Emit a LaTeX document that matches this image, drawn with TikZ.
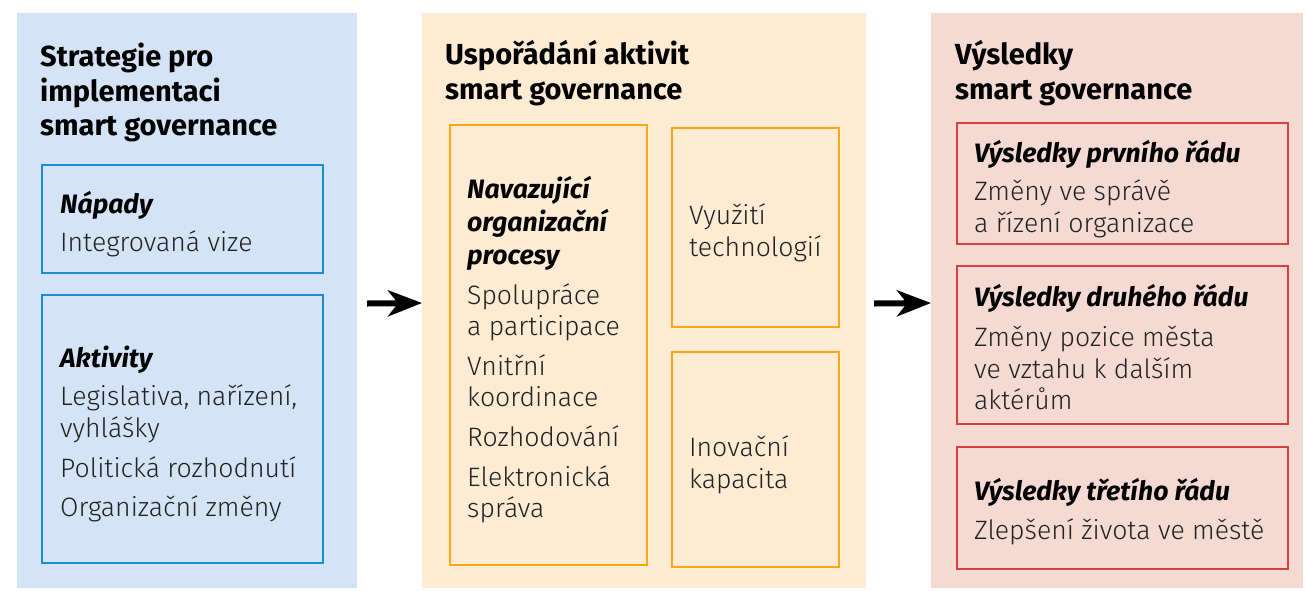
\documentclass[tikz,border=0pt]{standalone}
\usepackage{fontspec}
\setmainfont{Fira Sans}
\newfontfamily\lightf{Fira Sans Light}
\usetikzlibrary{arrows.meta}
\definecolor{bluefill}{HTML}{D4E4F6}
\definecolor{bluestroke}{HTML}{1C8BD2}
\definecolor{orfill}{HTML}{FEEBD3}
\definecolor{orstroke}{HTML}{F8AA10}
\definecolor{redfill}{HTML}{F5DAD4}
\definecolor{redstroke}{HTML}{DB4040}
\definecolor{bodytext}{HTML}{222222}
\tikzset{
  box/.style={line width=2.7pt},
  ttl/.style={anchor=base west, inner sep=0pt, font=\fontsize{29}{34}\selectfont\bfseries, text=black},
  hd/.style={anchor=base west, inner sep=0pt, font=\fontsize{26.6}{31}\selectfont\bfseries\itshape, text=black},
  bd/.style={anchor=base west, inner sep=0pt, font=\fontsize{26.6}{31}\selectfont\lightf, text=bodytext},
  bigarrow/.style={line width=6pt, -{Stealth[length=34pt,width=26pt,inset=10pt]}},
}
\begin{document}
\begin{tikzpicture}[x=1pt,y=-1pt]
\useasboundingbox (0,0) rectangle (1306,590);
% panels
\fill[bluefill] (17,13) rectangle (357,588);
\fill[orfill] (422,13) rectangle (866,588);
\fill[redfill] (931,13) rectangle (1303,588);
\coordinate (orpanelw) at (422,303);
\coordinate (redpanelw) at (931,303);
% blue
\node[ttl] (bt1) at (40,66.5) {Strategie pro};
\node[ttl] (bt2) at (40,101.5) {implementaci};
\node[ttl] (bt3) at (40,135.5) {smart governance};
\draw[box, draw=bluestroke] (42,165) rectangle (323,273);
\node[hd] (nap) at (60,213.5) {Nápady};
\node[bd] (nap1) at (60,251.5) {Integrovaná vize};
\draw[box, draw=bluestroke] (42,295) rectangle (323,563);
\node[hd] (akt) at (60,367.5) {Aktivity};
\node[bd] (akt1) at (60,405.5) {Legislativa, nařízení,};
\node[bd] (akt2) at (60,437.5) {vyhlášky};
\node[bd] (akt3) at (60,477.5) {Politická rozhodnutí};
\node[bd] (akt4) at (60,516.5) {Organizační změny};
% orange
\node[ttl] (ot1) at (445,64.5) {Uspořádání aktivit};
\node[ttl] (ot2) at (445,99.5) {smart governance};
\draw[box, draw=orstroke] (450,125) rectangle (647,565);
\node[hd] (nav1) at (467,198.5) {Navazující};
\node[hd] (nav2) at (467,231.5) {organizační};
\node[hd] (nav3) at (467,264.5) {procesy};
\node[bd] (p1) at (467,304.5) {Spolupráce};
\node[bd] (p2) at (467,335.5) {a participace};
\node[bd] (p3) at (467,375.5) {Vnitřní};
\node[bd] (p4) at (467,406.5) {koordinace};
\node[bd] (p5) at (467,446.5) {Rozhodování};
\node[bd] (p6) at (467,486.5) {Elektronická};
\node[bd] (p7) at (467,517.5) {správa};
\draw[box, draw=orstroke] (672,128) rectangle (839,327);
\node[bd] (v1) at (689,224.5) {Využití};
\node[bd] (v2) at (689,256.5) {technologií};
\draw[box, draw=orstroke] (672,352) rectangle (839,567);
\node[bd] (i1) at (689,456.5) {Inovační};
\node[bd] (i2) at (689,488.5) {kapacita};
% red
\node[ttl] (rt1) at (955,64.5) {Výsledky};
\node[ttl] (rt2) at (955,99.5) {smart governance};
\draw[box, draw=redstroke] (957,123) rectangle (1288,244);
\node[hd] (r1h) at (974,162.5) {Výsledky prvního řádu};
\node[bd] (r1a) at (974,200.5) {Změny ve správě};
\node[bd] (r1b) at (974,232.5) {a řízení organizace};
\draw[box, draw=redstroke] (957,266) rectangle (1288,424);
\node[hd] (r2h) at (974,306.5) {Výsledky druhého řádu};
\node[bd] (r2a) at (974,346.5) {Změny pozice města};
\node[bd] (r2b) at (974,378.5) {ve vztahu k dalším};
\node[bd] (r2c) at (974,409.5) {aktérům};
\draw[box, draw=redstroke] (957,447) rectangle (1288,569);
\node[hd] (r3h) at (974,500.5) {Výsledky třetího řádu};
\node[bd] (r3a) at (974,539.5) {Zlepšení života ve městě};
% arrows
\coordinate (a1s) at (367,303.5);
\coordinate (a2s) at (874,303.5);
\draw[bigarrow] (a1s) -- (orpanelw);
\draw[bigarrow] (a2s) -- (redpanelw);
\end{tikzpicture}
\end{document}
